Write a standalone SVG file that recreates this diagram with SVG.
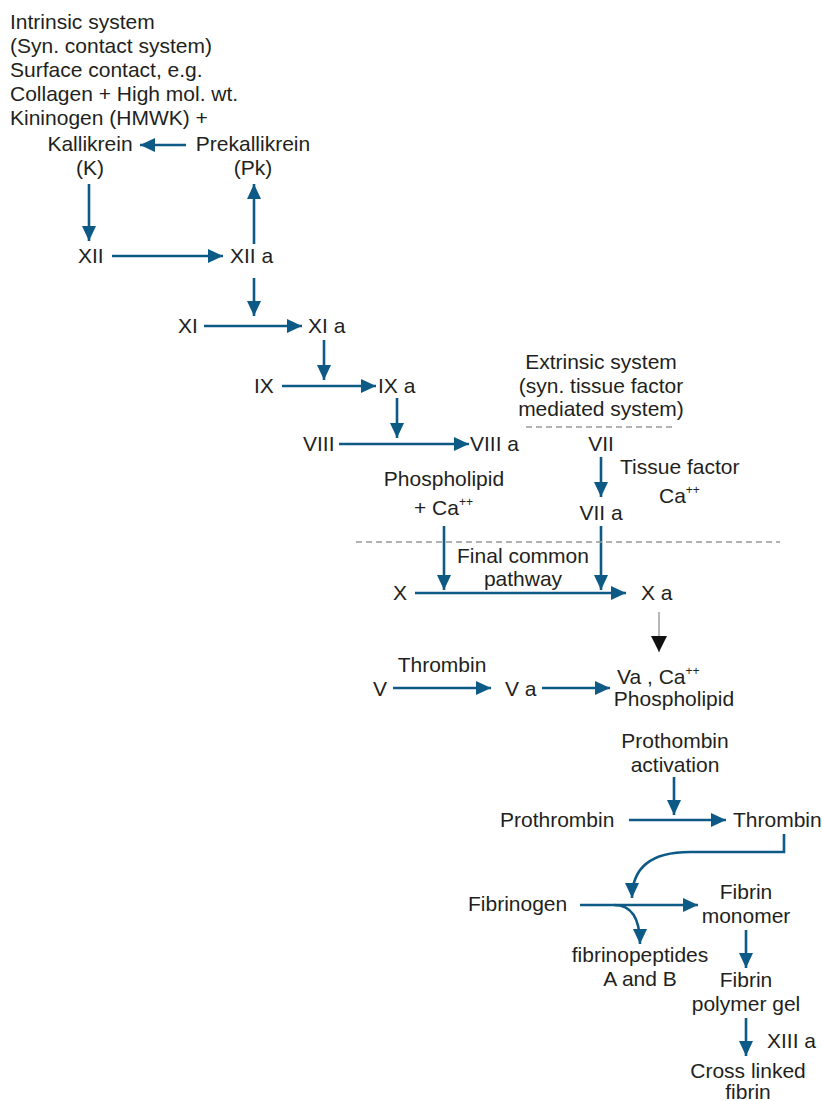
<svg xmlns="http://www.w3.org/2000/svg" width="822" height="1101" viewBox="0 0 822 1101">
<style>
text{font-family:"Liberation Sans",Arial,sans-serif;font-size:21px;fill:#231f20}
.c{text-anchor:middle}
.a{fill:none;stroke:#0d5a86;stroke-width:2.6}
.d{fill:none;stroke:#999;stroke-width:1.3;stroke-dasharray:6 4}
.sup{font-size:12px}
</style>
<defs>
<marker id="ah" markerUnits="userSpaceOnUse" markerWidth="16" markerHeight="14" refX="15" refY="7" orient="auto"><path d="M0,0 L15,7 L0,14 z" fill="#0d5a86"/></marker>
<marker id="bh" markerUnits="userSpaceOnUse" markerWidth="16" markerHeight="16" refX="16" refY="8" orient="auto"><path d="M0,0 L16,8 L0,16 z" fill="#111"/></marker>
</defs>
<g id="connectors">
<line class="a" x1="186" y1="145" x2="140" y2="145" marker-end="url(#ah)"/>
<line class="a" x1="89" y1="184" x2="89" y2="241" marker-end="url(#ah)"/>
<line class="a" x1="112" y1="256" x2="223" y2="256" marker-end="url(#ah)"/>
<line class="a" x1="254" y1="244" x2="254" y2="184" marker-end="url(#ah)"/>
<line class="a" x1="254" y1="278" x2="254" y2="316" marker-end="url(#ah)"/>
<line class="a" x1="204" y1="326" x2="302" y2="326" marker-end="url(#ah)"/>
<line class="a" x1="324" y1="340" x2="324" y2="380" marker-end="url(#ah)"/>
<line class="a" x1="282" y1="386" x2="376" y2="386" marker-end="url(#ah)"/>
<line class="a" x1="397" y1="398" x2="397" y2="438" marker-end="url(#ah)"/>
<line class="a" x1="339" y1="444" x2="469" y2="444" marker-end="url(#ah)"/>
<line class="a" x1="601" y1="457" x2="601" y2="497" marker-end="url(#ah)"/>
<line class="a" x1="444" y1="526" x2="444" y2="590" marker-end="url(#ah)"/>
<line class="a" x1="601" y1="526" x2="601" y2="590" marker-end="url(#ah)"/>
<line class="a" x1="415" y1="593" x2="626" y2="593" marker-end="url(#ah)"/>
<line x1="659" y1="612" x2="659" y2="652" stroke="#888" stroke-width="1.2" marker-end="url(#bh)"/>
<line class="a" x1="393" y1="688" x2="491" y2="688" marker-end="url(#ah)"/>
<line class="a" x1="542" y1="688" x2="610" y2="688" marker-end="url(#ah)"/>
<line class="a" x1="674" y1="777" x2="674" y2="815" marker-end="url(#ah)"/>
<line class="a" x1="629" y1="820" x2="726" y2="820" marker-end="url(#ah)"/>
<path class="a" d="M784,834 L784,852 L690,852 Q632,852 632,898" marker-end="url(#ah)"/>
<line class="a" x1="580" y1="905" x2="698" y2="905" marker-end="url(#ah)"/>
<path class="a" d="M614,905 Q640,905 640,944" marker-end="url(#ah)"/>
<line class="a" x1="746" y1="930" x2="746" y2="968" marker-end="url(#ah)"/>
<line class="a" x1="746" y1="1018" x2="746" y2="1056" marker-end="url(#ah)"/>
<line class="d" x1="526" y1="427" x2="676" y2="427"/>
<line class="d" x1="356" y1="542" x2="780" y2="542"/>
</g>
<g id="intrinsic">
<text x="10" y="29">Intrinsic system</text>
<text x="10" y="53">(Syn. contact system)</text>
<text x="10" y="77">Surface contact, e.g.</text>
<text x="10" y="101">Collagen + High mol. wt.</text>
<text x="10" y="125">Kininogen (HMWK) +</text>
</g>
<g id="kallikrein"><text class="c" x="90" y="151">Kallikrein</text><text class="c" x="90" y="175">(K)</text></g>
<g id="prekallikrein"><text class="c" x="253" y="151">Prekallikrein</text><text class="c" x="253" y="175">(Pk)</text></g>
<g id="xii"><text x="78" y="263">XII</text></g>
<g id="xiia"><text x="230" y="263">XII a</text></g>
<g id="xi"><text x="178" y="333">XI</text></g>
<g id="xia"><text x="308" y="333">XI a</text></g>
<g id="ix"><text x="254" y="393">IX</text></g>
<g id="ixa"><text x="378" y="393">IX a</text></g>
<g id="viii"><text x="303" y="451">VIII</text></g>
<g id="viiia"><text x="470" y="451">VIII a</text></g>
<g id="extrinsic">
<text class="c" x="601" y="369">Extrinsic system</text>
<text class="c" x="601" y="393">(syn. tissue factor</text>
<text class="c" x="601" y="416">mediated system)</text>
</g>
<g id="vii"><text class="c" x="601" y="451">VII</text></g>
<g id="tissuefactor"><text x="620" y="474">Tissue factor</text><text x="659" y="503">Ca<tspan class="sup" dy="-9">++</tspan></text></g>
<g id="viia"><text class="c" x="601" y="520">VII a</text></g>
<g id="phospholipid"><text class="c" x="444" y="486">Phospholipid</text><text x="414" y="515">+ Ca<tspan class="sup" dy="-9">++</tspan></text></g>
<g id="finalcommon"><text class="c" x="523" y="563">Final common</text><text class="c" x="523" y="586">pathway</text></g>
<g id="x"><text x="393" y="600">X</text></g>
<g id="xa"><text x="641" y="600">X a</text></g>
<g id="v"><text x="373" y="696">V</text></g>
<g id="thrombinlabel"><text class="c" x="442" y="672">Thrombin</text></g>
<g id="va"><text x="505" y="696">V a</text></g>
<g id="vaca"><text x="617" y="684">Va , Ca<tspan class="sup" dy="-9">++</tspan></text><text class="c" x="674" y="706">Phospholipid</text></g>
<g id="prothactivation"><text class="c" x="675" y="748">Prothombin</text><text class="c" x="675" y="772">activation</text></g>
<g id="prothrombin"><text x="500" y="827">Prothrombin</text></g>
<g id="thrombin"><text x="733" y="827">Thrombin</text></g>
<g id="fibrinogen"><text x="468" y="911">Fibrinogen</text></g>
<g id="fibrinmonomer"><text class="c" x="746" y="899">Fibrin</text><text class="c" x="746" y="923">monomer</text></g>
<g id="fibrinopeptides"><text class="c" x="640" y="962">fibrinopeptides</text><text class="c" x="640" y="986">A and B</text></g>
<g id="fibrinpolymer"><text class="c" x="746" y="987">Fibrin</text><text class="c" x="746" y="1011">polymer gel</text></g>
<g id="xiiia"><text x="767" y="1048">XIII a</text></g>
<g id="crosslinked"><text class="c" x="748" y="1078">Cross linked</text><text class="c" x="748" y="1099">fibrin</text></g>
</svg>
